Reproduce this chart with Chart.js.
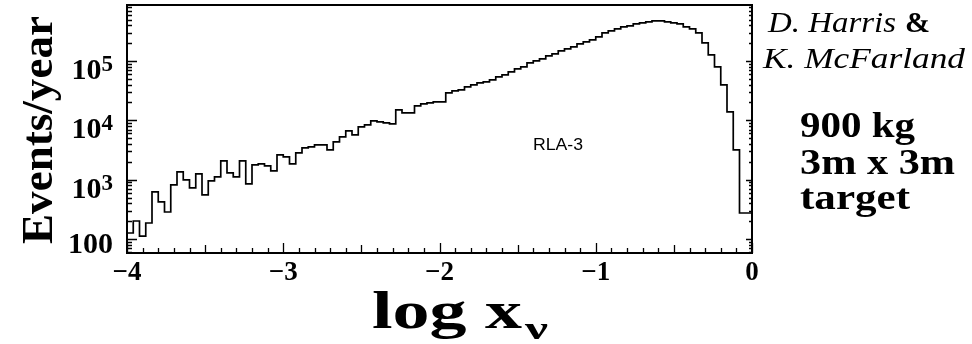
<!DOCTYPE html>
<html>
<head>
<meta charset="utf-8">
<script src="https://cdn.jsdelivr.net/npm/chart.js@4"></script>
<style>
  html, body { margin: 0; padding: 0; background: #fff; }
  #c { display: block; }
</style>
</head>
<body>
<canvas id="c" width="972" height="344"></canvas>
<script>
// Histogram binning in log10(x_nu): 100 bins of 0.04 from -4 to 0
const binStart = -4.0;
const binWidth = 0.04;

// Events per year in each bin
const events = [
  96, 126, 201, 112, 186, 621, 421, 285, 815, 1350,
  989, 724, 1248, 552, 951, 1111, 2066, 1297, 1111, 2066,
  846, 1770, 1841, 1702, 1403, 2612, 2415, 1841, 2820, 3427,
  3560, 3850, 3850, 3170, 4325, 5250, 6625, 5675, 7745, 8360,
  9770, 9400, 9040, 8700, 14960, 13330, 13330, 17490, 18910, 19650,
  20420, 20420, 28970, 31330, 32590, 36590, 39560, 42770, 44470, 48010,
  53970, 58350, 65500, 73600, 79500, 92900, 100400, 108500, 121900, 131800,
  148000, 160000, 172900, 194200, 209900, 227000, 254800, 297700, 322000, 347600,
  375800, 390800, 422700, 439500, 456000, 474400, 474400, 456000, 439500, 422700,
  375800, 347600, 297700, 201800, 126800, 79500, 39560, 13870, 3170, 274
];

// Axis ticks and their labels
const xTickValues = [-4, -3, -2, -1, 0];
const xTickLabels = ['\u22124', '\u22123', '\u22122', '\u22121', '0'];
const yTickValues = [100, 1000, 10000, 100000];
const yTickLabels = [['100', ''], ['10', '3'], ['10', '4'], ['10', '5']];

const SERIF = '"Liberation Serif", "Times New Roman", serif';

// Step histogram points: one point at each bin's lower edge, plus the closing edge
const points = events.map((v, i) => ({ x: binStart + i * binWidth, y: v }));
points.push({ x: binStart + events.length * binWidth, y: events[events.length - 1] });

function drawFit(ctx, text, font, x, y, width, align) {
  ctx.save();
  ctx.font = font;
  const w = ctx.measureText(text).width;
  const s = width ? width / w : 1;
  ctx.translate(x, y);
  ctx.scale(s, 1);
  ctx.textAlign = align || 'left';
  ctx.textBaseline = 'alphabetic';
  ctx.fillText(text, 0, 0);
  ctx.restore();
}

const framePlugin = {
  id: 'frameAndText',
  afterDatasetsDraw(chart) {
    const { ctx, chartArea: a, scales } = chart;
    const xs = scales.x, ys = scales.y;
    ctx.save();
    ctx.strokeStyle = '#000';
    ctx.fillStyle = '#000';

    // frame
    ctx.lineWidth = 2;
    ctx.strokeRect(a.left, a.top, a.right - a.left, a.bottom - a.top);

    // bottom ticks: every 0.1, longer at halves and integers
    ctx.lineWidth = 1.3;
    ctx.beginPath();
    for (let k = -40; k <= 0; k++) {
      const px = Math.round(xs.getPixelForValue(k / 10)) + 0.5;
      const len = (k % 10 === 0) ? 10 : (k % 5 === 0 ? 8 : 5);
      ctx.moveTo(px, a.bottom);
      ctx.lineTo(px, a.bottom - len);
    }
    ctx.stroke();

    // left and right log ticks
    ctx.beginPath();
    for (let d = 1; d <= 5; d++) {
      for (let m = 1; m <= 9; m++) {
        const v = m * Math.pow(10, d);
        if (v < ys.min || v > ys.max) continue;
        const py = Math.round(ys.getPixelForValue(v)) + 0.5;
        const len = m === 1 ? 10 : 5;
        ctx.moveTo(a.left, py);
        ctx.lineTo(a.left + len, py);
        ctx.moveTo(a.right, py);
        ctx.lineTo(a.right - (m === 1 ? 6 : 3), py);
      }
    }
    ctx.stroke();

    // y tick labels with superscript exponents
    yTickValues.forEach((v, i) => {
      const py = ys.getPixelForValue(v);
      const [base, exp] = yTickLabels[i];
      ctx.font = 'bold 30px ' + SERIF;
      ctx.textBaseline = 'alphabetic';
      if (!exp) {
        ctx.textAlign = 'right';
        ctx.fillText(base, 113, py + 14);
      } else {
        ctx.font = 'bold 23px ' + SERIF;
        const ew = ctx.measureText(exp).width;
        ctx.textAlign = 'right';
        ctx.fillText(exp, 113, py + 10);
        ctx.font = 'bold 30px ' + SERIF;
        ctx.fillText(base, 113 - ew, py + 18);
      }
    });

    // axis titles
    ctx.save();
    ctx.translate(52, 130);
    ctx.rotate(-Math.PI / 2);
    drawFit(ctx, 'Events/year', 'bold 45px ' + SERIF, 0, 0, 228, 'center');
    ctx.restore();

    drawFit(ctx, 'log x', 'bold 52px ' + SERIF, 372, 328, 150);
    drawFit(ctx, '\u03bd', 'bold 32px ' + SERIF, 525, 339, 23);

    // plot annotation
    drawFit(ctx, 'RLA-3', '16px "Liberation Sans", Arial, sans-serif', 533, 150, 50);

    // side notes
    drawFit(ctx, 'D. Harris', 'italic 29px ' + SERIF, 768, 32, 128);
    drawFit(ctx, '&', 'bold 29px ' + SERIF, 905, 32, 25);
    drawFit(ctx, 'K. McFarland', 'italic 29px ' + SERIF, 763, 68, 202);
    drawFit(ctx, '900 kg', 'bold 35px ' + SERIF, 800, 137, 115);
    drawFit(ctx, '3m x 3m', 'bold 35px ' + SERIF, 800, 174, 155);
    drawFit(ctx, 'target', 'bold 35px ' + SERIF, 800, 209, 110);

    ctx.restore();
  }
};

new Chart(document.getElementById('c'), {
  type: 'line',
  data: {
    datasets: [{
      data: points,
      stepped: 'after',
      borderColor: '#000',
      borderWidth: 1.7,
      pointRadius: 0,
      fill: false,
      tension: 0
    }]
  },
  options: {
    responsive: false,
    animation: false,
    devicePixelRatio: 1,
    layout: { padding: { left: 127, right: 220, top: 5, bottom: 0 } },
    plugins: { legend: { display: false }, tooltip: { enabled: false } },
    scales: {
      x: {
        type: 'linear',
        min: -4,
        max: 0,
        grid: { display: false },
        border: { display: false },
        afterBuildTicks: s => { s.ticks = xTickValues.map(v => ({ value: v })); },
        afterFit: s => { s.height = 91; },
        ticks: {
          autoSkip: false,
          maxRotation: 0,
          padding: -4,
          color: '#000',
          font: { family: SERIF, size: 27, weight: 'bold' },
          callback: (v) => xTickLabels[xTickValues.indexOf(v)]
        }
      },
      y: {
        type: 'logarithmic',
        min: 58,
        max: 880000,
        grid: { display: false },
        border: { display: false },
        ticks: { display: false },
        afterFit: s => { s.width = 0; }
      }
    }
  },
  plugins: [framePlugin]
});
</script>
</body>
</html>
